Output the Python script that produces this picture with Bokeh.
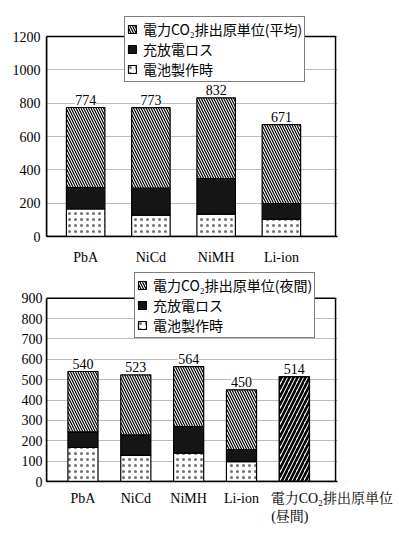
from bokeh.plotting import figure
from bokeh.models import (ColumnDataSource, Range1d, FixedTicker, Legend, LegendItem,
                          LabelSet)
from bokeh.layouts import column
from bokeh.embed import file_html
from bokeh.resources import INLINE

# ---------------- data ----------------
cats_top = ["PbA", "NiCd", "NiMH", "Li-ion"]
manuf_avg = [165, 128, 134, 104]
loss_avg = [129, 162, 214, 94]
power_avg = [480, 483, 484, 473]
total_avg = [774, 773, 832, 671]

cats_bot = ["PbA", "NiCd", "NiMH", "Li-ion"]
manuf_night = [167, 128, 139, 98]
loss_night = [77, 101, 131, 59]
power_night = [296, 294, 294, 293]
total_night = [540, 523, 564, 450]
day_label = "電力CO₂排出原単位\n(昼間)" + "\u3000" * 6
day_value = [514]

leg_power_avg = "電力CO₂排出原単位(平均)"
leg_power_night = "電力CO₂排出原単位(夜間)"
leg_loss = "充放電ロス"
leg_manuf = "電池製作時"

yticks_top = [0, 200, 400, 600, 800, 1000, 1200]
yticks_bot = [0, 100, 200, 300, 400, 500, 600, 700, 800, 900]

SERIF = "Liberation Serif, Noto Serif CJK JP, Noto Sans CJK JP"
JP = "Noto Sans CJK JP"


def style(p, yticks, ymax, xticks, xlabels, xstand, ystand):
    p.outline_line_color = None
    p.xgrid.grid_line_color = None
    p.ygrid.grid_line_color = "#777777"
    p.ygrid.grid_line_dash = "1 1"
    p.ygrid.grid_line_width = 1
    p.yaxis.ticker = FixedTicker(ticks=yticks)
    p.yaxis.bounds = (0, ymax)
    p.xaxis.ticker = FixedTicker(ticks=xticks)
    p.xaxis.major_label_overrides = {t: l for t, l in zip(xticks, xlabels)}
    for ax in (p.xaxis, p.yaxis):
        ax.axis_line_color = "black"
        ax.axis_line_width = 1.5
        ax.major_tick_line_color = None
        ax.minor_tick_line_color = None
        ax.major_tick_out = 0
        ax.major_tick_in = 0
        ax.minor_tick_out = 0
        ax.minor_tick_in = 0
        ax.major_label_text_font = SERIF
        ax.major_label_text_font_size = "14px"
        ax.major_label_text_color = "black"
    p.xaxis.major_label_standoff = xstand
    p.yaxis.major_label_standoff = ystand
    p.background_fill_color = "white"
    p.border_fill_color = "white"


def frame_box(p, x0, x1, ymax):
    p.quad(left=[x0], right=[x1], bottom=[0], top=[ymax], fill_color=None,
           line_color="black", line_width=1.5)


def stacked(p, xs, manuf, loss, power, total, width, leg_power, loc):
    b1 = [m + l for m, l in zip(manuf, loss)]
    b2 = [a + pw for a, pw in zip(b1, power)]
    src = ColumnDataSource(dict(x=xs, m=manuf, b1=b1, b2=b2, z=[0] * len(xs),
                                tot=total, lab=[str(t) for t in total]))
    r_m = p.vbar(x="x", bottom="z", top="m", width=width, source=src,
                 fill_color="white", line_color="black", line_width=1.2,
                 hatch_pattern=".", hatch_scale=6, hatch_weight=0.3,
                 hatch_color="#333333", hatch_alpha=0.7)
    r_l = p.vbar(x="x", bottom="m", top="b1", width=width, source=src,
                 fill_color="#151515", line_color="black", line_width=1.2)
    r_p = p.vbar(x="x", bottom="b1", top="b2", width=width, source=src,
                 fill_color="white", line_color="black", line_width=1.2,
                 hatch_pattern="\\", hatch_scale=5, hatch_weight=1.2, hatch_color="black")
    labels = LabelSet(x="x", y="tot", text="lab", source=src, text_align="center",
                      text_baseline="bottom", y_offset=3, text_font=SERIF,
                      text_font_size="14px", text_color="black",
                      background_fill_color="white")
    p.add_layout(labels)
    legend = Legend(items=[LegendItem(label=leg_power, renderers=[r_p]),
                           LegendItem(label=leg_loss, renderers=[r_l]),
                           LegendItem(label=leg_manuf, renderers=[r_m])],
                    location=loc, border_line_color="black", border_line_width=1.2,
                    background_fill_color="white", background_fill_alpha=1,
                    label_text_font=JP, label_text_font_size="14px",
                    label_text_color="black", glyph_width=10, glyph_height=10,
                    label_height=14, label_standoff=6, spacing=0, padding=2, margin=0)
    p.add_layout(legend)
    return src


# ---------------- top chart ----------------
p1 = figure(width=399, height=270, output_backend="svg", toolbar_location=None,
            x_range=Range1d(-0.6, 3.86), y_range=Range1d(0, 1320),
            min_border_left=46, min_border_right=59, min_border_top=16,
            min_border_bottom=34)
xs1 = list(range(len(cats_top)))
frame_box(p1, -0.6, 3.83, 1200)
stacked(p1, xs1, manuf_avg, loss_avg, power_avg, total_avg, 0.59, leg_power_avg,
        (78, 154))
style(p1, yticks_top, 1200, xs1, cats_top, 13, 6)

# ---------------- bottom chart ----------------
p2 = figure(width=399, height=274, output_backend="svg", toolbar_location=None,
            x_range=Range1d(-0.69, 4.817), y_range=Range1d(0, 1026),
            min_border_left=38, min_border_right=62, min_border_top=2,
            min_border_bottom=63)
xs2 = list(range(len(cats_bot)))
frame_box(p2, -0.69, 4.78, 900)
stacked(p2, xs2, manuf_night, loss_night, power_night, total_night, 0.57,
        leg_power_night, (88, 143))
dsrc = ColumnDataSource(dict(x=[len(cats_bot)], top=day_value,
                             lab=[str(v) for v in day_value]))
p2.vbar(x="x", top="top", bottom=0, width=0.57, source=dsrc, fill_color="white",
        line_color="black", line_width=1.5, hatch_pattern="/", hatch_scale=8,
        hatch_weight=2.6, hatch_color="black")
p2.add_layout(LabelSet(x="x", y="top", text="lab", source=dsrc, text_align="center",
                       text_baseline="bottom", y_offset=3, text_font=SERIF,
                       text_font_size="14px", text_color="black",
                       background_fill_color="white"))
xs2b = xs2 + [4.71]
style(p2, yticks_bot, 900, xs2b, cats_bot + [day_label], 9, 4)

layout = column(p1, p2, spacing=0)
open("out.html", "w").write(file_html(layout, INLINE))
